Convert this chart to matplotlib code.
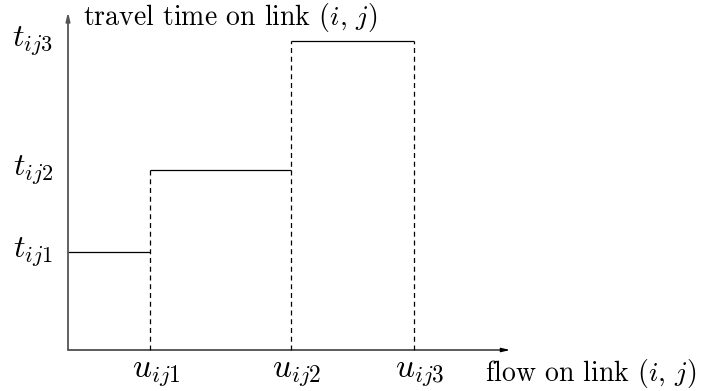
import matplotlib
matplotlib.use("Agg")
import matplotlib.pyplot as plt

plt.rcParams['mathtext.fontset'] = 'cm'
plt.rcParams['axes.formatter.use_mathtext'] = True

# data (arbitrary units, origin at axes crossing)
u_vals = [82, 223, 346]
t_vals = [98, 180, 309]
u_labels = [r"$u_{ij1}$", r"$u_{ij2}$", r"$u_{ij3}$"]
t_labels = [r"$t_{ij1}$", r"$t_{ij2}$", r"$t_{ij3}$"]
x_axis_len = 442
y_axis_len = 338

fig = plt.figure(figsize=(7.04, 3.91), dpi=100)
ax = fig.add_axes([0, 0, 1, 1])
ax.set_xlim(-68, 636)
ax.set_ylim(-41, 350)
ax.axis('off')

# axes with arrows
ax.annotate("", xy=(x_axis_len, 0), xytext=(0, 0),
            arrowprops=dict(arrowstyle="-|>,head_length=0.5,head_width=0.12", color="black", lw=0.9, shrinkA=0, shrinkB=0))
ax.annotate("", xy=(0, y_axis_len), xytext=(0, 0),
            arrowprops=dict(arrowstyle="-|>,head_length=0.5,head_width=0.12", color="#555555", lw=1.3, shrinkA=0, shrinkB=0))

# step function
prev = 0
for i in range(len(u_vals)):
    ax.plot([prev, u_vals[i]], [t_vals[i], t_vals[i]], color="black", lw=0.9, solid_capstyle='butt')
    prev = u_vals[i]

# dashed verticals
for i in range(len(u_vals)):
    top = t_vals[i + 1] if i + 1 < len(t_vals) else t_vals[i]
    ax.plot([u_vals[i], u_vals[i]], [0, top], color="black", lw=0.9, ls=(0, (4, 3)))

# labels
for u, lab in zip(u_vals, u_labels):
    ax.text(u + 6, -22, lab, ha='center', va='center', fontsize=24)
for t, lab in zip(t_vals, t_labels):
    ax.text(-15, t, lab, ha='right', va='center', fontsize=23)

ax.text(417, -23, r"flow on link $(i,\,j)$", ha='left', va='center', fontsize=20, family='cmr10')
ax.text(15, 333, r"travel time on link $(i,\,j)$", ha='left', va='center', fontsize=20, family='cmr10')

fig.savefig("out.png", dpi=100)
